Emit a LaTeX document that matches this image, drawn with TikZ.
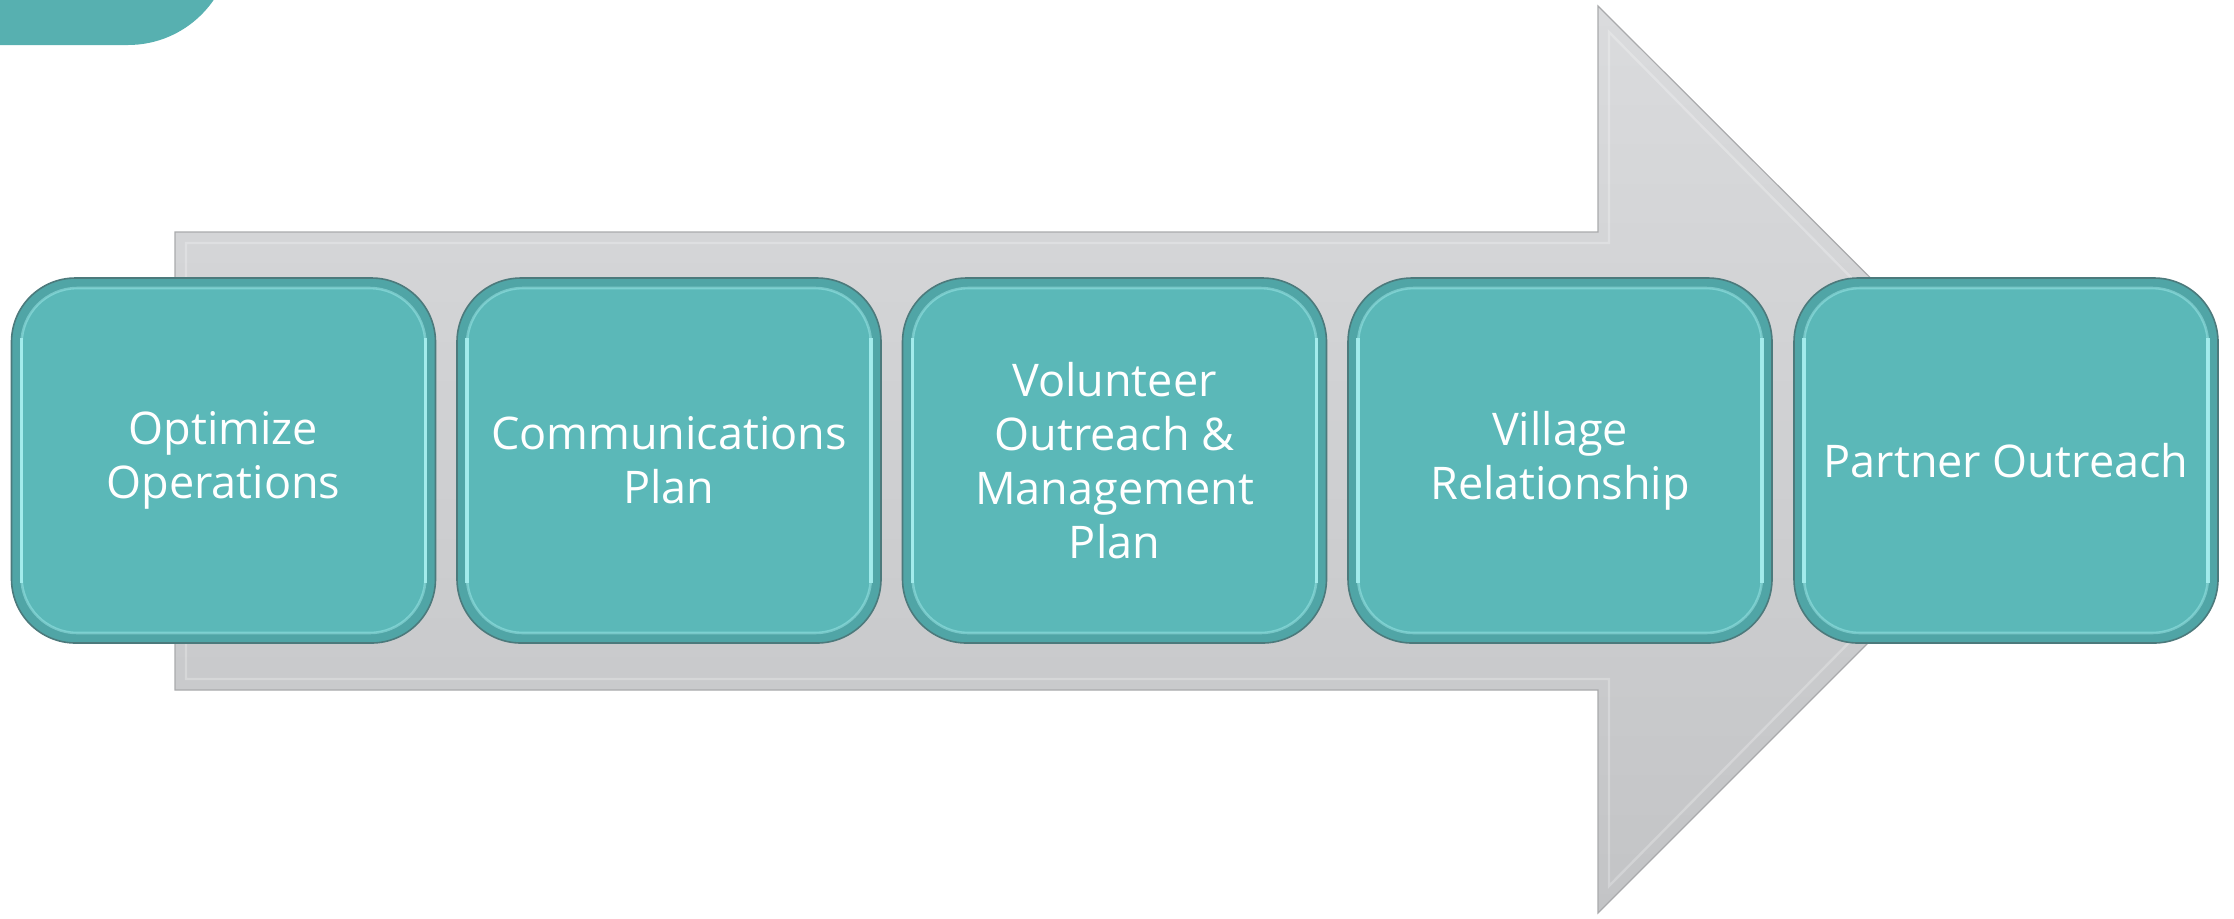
\documentclass[tikz,border=0pt]{standalone}
\usepackage{fontspec}
\setmainfont{Open Sans}
\definecolor{boxfill}{HTML}{5BB8B8}
\definecolor{boxedge}{HTML}{50A5A6}
\definecolor{boxline}{HTML}{4C7A7C}
\definecolor{boxhi}{HTML}{A8F0F0}
\definecolor{tabcol}{HTML}{57B0B0}
\definecolor{arrtop}{HTML}{DADBDD}
\definecolor{arrbot}{HTML}{C3C4C6}
\definecolor{arrline}{HTML}{A9AAAC}
\begin{document}
\begin{tikzpicture}[x=0.5pt,y=-0.5pt,
  stepbox/.style={rounded corners=32pt, minimum width=212pt, minimum height=182.5pt,
    fill=boxedge, draw=boxline, line width=0.8pt, inner sep=0pt,
    path picture={\fill[boxfill, rounded corners=28pt]
      ([shift={(5pt,-5pt)}]path picture bounding box.north west) rectangle
      ([shift={(-5pt,5pt)}]path picture bounding box.south east);
      \draw[boxhi, line width=1.3pt, draw opacity=0.45, rounded corners=28pt]
      ([shift={(5pt,-5pt)}]path picture bounding box.north west) rectangle
      ([shift={(-5pt,5pt)}]path picture bounding box.south east);
      \draw[boxhi, line width=1.6pt, draw opacity=0.9]
      ([shift={(5pt,-30pt)}]path picture bounding box.north west) --
      ([shift={(5pt,30pt)}]path picture bounding box.south west);
      \draw[boxhi, line width=1.6pt, draw opacity=0.9]
      ([shift={(-5pt,-30pt)}]path picture bounding box.north east) --
      ([shift={(-5pt,30pt)}]path picture bounding box.south east);}},
  steptext/.style={text=white, align=center, font=\fontsize{22.5}{27}\selectfont}]
\clip (0,0) rectangle (2234,918);
\useasboundingbox (0,0) rectangle (2234,918);
% top-left tab
\fill[tabcol, rounded corners=52pt] (-300,-300) rectangle (232,45);
% big arrow
\draw[arrline, line width=0.6pt, top color=arrtop, bottom color=arrbot]
  (175,232) -- (1598,232) -- (1598,6) -- (2052,459) -- (1598,913) -- (1598,690) -- (175,690) -- cycle;
\draw[white, opacity=0.25, line width=1.2pt]
  (186,243) -- (1609,243) -- (1609,32) -- (2030,459) -- (1609,886) -- (1609,679) -- (186,679) -- cycle;
% boxes
\node[stepbox] (b1) at (223.5,460.5) {};
\node[stepbox] (b2) at (669,460.5) {};
\node[stepbox] (b3) at (1114.5,460.5) {};
\node[stepbox] (b4) at (1560,460.5) {};
\node[stepbox] (b5) at (2006,460.5) {};
\node[steptext] (t1) at (b1.center) {Optimize\\Operations};
\node[steptext] (t2) at (b2.center) {Communications\\Plan};
\node[steptext] (t3) at (b3.center) {Volunteer\\Outreach \&\\Management\\Plan};
\node[steptext] (t4) at (b4.center) {Village\\Relationship};
\node[steptext] (t5) at (b5.center) {Partner Outreach};
\end{tikzpicture}
\end{document}
